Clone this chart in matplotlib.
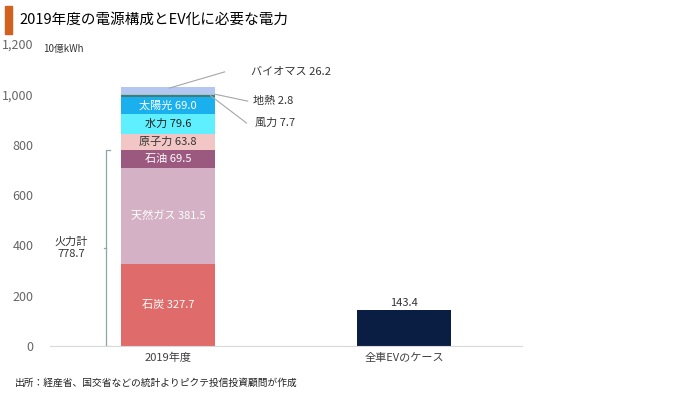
import matplotlib.pyplot as plt
from matplotlib.patches import Rectangle

plt.rcParams['font.family'] = ['Noto Sans CJK JP', 'DejaVu Sans']

# data (10億kWh)
categories = ["2019年度", "全車EVのケース"]
sources = ["石炭", "天然ガス", "石油", "原子力", "水力", "太陽光", "風力", "地熱", "バイオマス"]
values_2019 = [327.7, 381.5, 69.5, 63.8, 79.6, 69.0, 7.7, 2.8, 26.2]
ev_value = 143.4
thermal_total = 778.7

colors = ["#E06B6B", "#D4B1C5", "#9C5980", "#F3C6C6", "#5EF0FF",
          "#1AB0EE", "#3D7F78", "#A9BFCF", "#B3C7F0"]
text_colors = ["white", "white", "white", "#333333", "#222222", "white"]

fig = plt.figure(figsize=(6.8, 3.96), dpi=100)
ax = fig.add_axes([0.0735, 0.126, 0.694, 0.763])

# stacked bar for 2019
bottom = 0
mids = []
for v, c in zip(values_2019, colors):
    ax.bar(0, v, width=0.4, bottom=bottom, color=c, edgecolor="none")
    mids.append(bottom + v / 2)
    bottom += v

# labels inside the bar
for i in range(6):
    ax.text(0, mids[i], f"{sources[i]} {values_2019[i]:.1f}", ha="center", va="center",
            fontsize=8, color=text_colors[i])

# small segments with leader lines
top = bottom
ax.plot([0.006, 0.24], [top - 3, 1089], color="#A6A6A6", lw=0.8)
ax.text(0.35, 1089, f"{sources[8]} {values_2019[8]}", ha="left", va="center", fontsize=8, color="#333333")
ax.plot([0.2, 0.338], [mids[7], 973], color="#A6A6A6", lw=0.8)
ax.text(0.36, 973, f"{sources[7]} {values_2019[7]}", ha="left", va="center", fontsize=8, color="#333333")
ax.plot([0.18, 0.333], [mids[6], 886], color="#A6A6A6", lw=0.8)
ax.text(0.37, 886, f"{sources[6]} {values_2019[6]}", ha="left", va="center", fontsize=8, color="#333333")

# EV bar
ax.bar(1, ev_value, width=0.4, color="#0A1D43", edgecolor="none")
ax.text(1, ev_value + 8, f"{ev_value}", ha="center", va="bottom", fontsize=8, color="#333333")

# bracket for thermal total
bx = -0.261
bc = "#8FA5AA"
ax.plot([bx + 0.015, bx, bx, bx + 0.015], [thermal_total, thermal_total, 0, 0], color=bc, lw=0.9)
ax.plot([bx - 0.012, bx], [thermal_total / 2, thermal_total / 2], color=bc, lw=0.9)
ax.text(-0.41, thermal_total / 2, f"火力計\n{thermal_total}", ha="center", va="center",
        fontsize=8, color="#333333", linespacing=1.25)

ax.set_xlim(-0.5, 1.5)
ax.set_ylim(0, 1200)
ax.set_yticks(range(0, 1201, 200))
ax.set_yticklabels([f"{t:,}" for t in range(0, 1201, 200)])
ax.set_xticks([0, 1])
ax.set_xticklabels(categories)
ax.tick_params(axis="y", length=0, labelsize=9, labelcolor="#666666", pad=12)
ax.tick_params(axis="x", length=0, labelsize=8, labelcolor="#404040", pad=5)
for s in ["top", "right", "left"]:
    ax.spines[s].set_visible(False)
ax.spines["bottom"].set_color("#D9D9D9")

fig.text(0.063, 0.877, "10億kWh", fontsize=7, color="#333333", ha="left", va="center")

# title with orange marker
fig.patches.append(Rectangle((0.007, 0.915), 0.011, 0.07, transform=fig.transFigure,
                             color="#D2601E", zorder=3))
fig.text(0.028, 0.949, "2019年度の電源構成とEV化に必要な電力", fontsize=10.5, ha="left", va="center")

fig.text(0.022, 0.033, "出所：経産省、国交省などの統計よりピクテ投信投資顧問が作成", fontsize=7,
         ha="left", va="center", color="#222222")

fig.savefig("out.png", dpi=100)
